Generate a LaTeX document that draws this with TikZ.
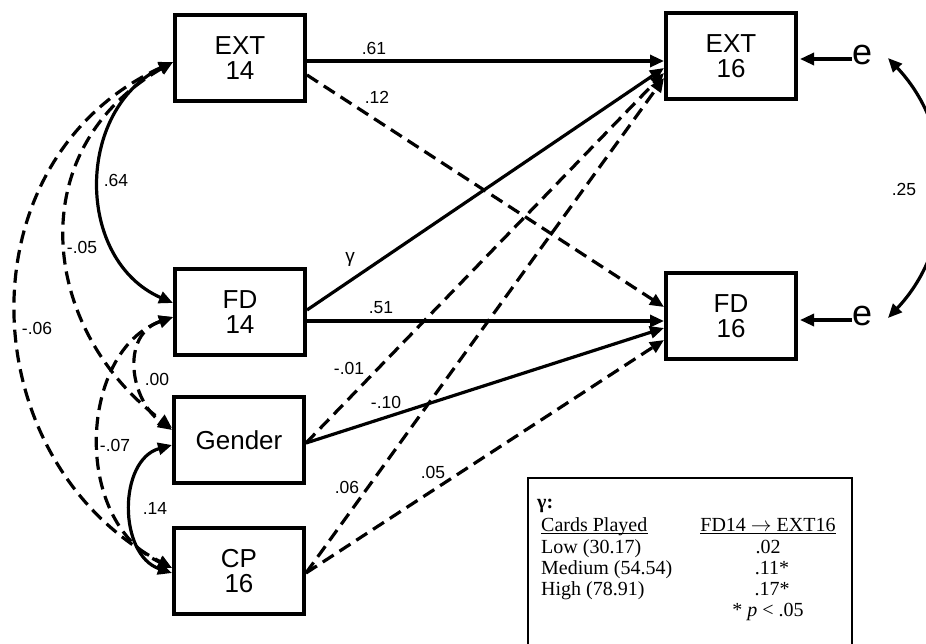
\documentclass[tikz,border=0pt]{standalone}
\usepackage{fontspec}
\setmainfont{Liberation Sans}
\newfontfamily\tabfont{Liberation Serif}
\usetikzlibrary{arrows.meta,calc}
\begin{document}
\begin{tikzpicture}[x=1pt,y=-1pt,
  box/.style={draw,line width=4pt,minimum width=130pt,minimum height=86pt,inner sep=0pt,align=center,font=\fontsize{26}{25}\selectfont},
  conn/.style={line width=3.2pt,-{Triangle[length=14pt,width=12pt]}},
  corr/.style={line width=3.2pt,{Triangle[length=14pt,width=12pt]}-{Triangle[length=14pt,width=12pt]}},
  dsh/.style={dash pattern=on 13pt off 7pt},
  lbl/.style={font=\fontsize{17.5}{18}\selectfont,inner sep=0pt},
  errlbl/.style={font=\fontsize{36}{36}\selectfont,inner sep=0pt},
  tab/.style={font=\tabfont\fontsize{20}{21}\selectfont,inner sep=0pt},
  uline/.style={line width=1.1pt}
]
\useasboundingbox (0,0) rectangle (926,643);
\fill[white] (0,0) rectangle (926,643);

% boxes
\node[box] (ext14) at (240,58) {EXT\\14};
\node[box] (fd14) at (240,312) {FD\\14};
\node[box] (gender) at (239,440) {Gender};
\node[box] (cp) at (239,571) {CP\\16};
\node[box] (ext16) at (731,56) {EXT\\16};
\node[box] (fd16) at (731,316) {FD\\16};

% error terms
\node[errlbl] (e1) at (862,55) {e};
\node[errlbl] (e2) at (862,316) {e};
\draw[conn] ($(e1.west)+(0,4)$) -- ($(e1.west -| ext16.east)+(2,4)$);
\draw[conn] ($(e2.west)+(0,4)$) -- ($(e2.west -| fd16.east)+(2,4)$);
\coordinate (r1) at (888,58);
\coordinate (r2) at (888,318);
\draw[corr] (r1) .. controls (958,132) and (958,244) .. (r2);
\node[lbl] (l25) at (904,189) {.25};

% paths to the right
\draw[conn] ($(ext14.east)+(0,3)$) -- ($(ext16.west)+(0,5)$);
\draw[conn,dsh] ($(ext14.east)+(0,17)$) -- ($(fd16.west)+(0,-9)$);
\draw[conn] ($(fd14.east)+(0,-2)$) -- ($(ext16.west)+(0,12)$);
\draw[conn] ($(fd14.east)+(0,9)$) -- ($(fd16.west)+(0,5)$);
\draw[conn,dsh] ($(gender.east)+(0,3)$) -- ($(ext16.west)+(0,17)$);
\draw[conn] ($(gender.east)+(0,3)$) -- ($(fd16.west)+(0,12)$);
\draw[conn,dsh] ($(cp.east)+(0,2)$) -- ($(ext16.west)+(0,22)$);
\draw[conn,dsh] ($(cp.east)+(0,2)$) -- ($(fd16.west)+(0,24)$);

\node[lbl] (l61) at (374,48) {.61};
\node[lbl] (l12) at (377,97) {.12};
\node[lbl] (lg) at (350,259) {\fontsize{19}{19}\selectfont γ};
\node[lbl] (l51) at (381,308) {.51};
\node[lbl] (l01) at (349,368) {-.01};
\node[lbl] (l10) at (386,402) {-.10};
\node[lbl] (l06) at (347,487) {.06};
\node[lbl] (l05) at (433,472) {.05};

% correlations on the left
\draw[corr] ($(ext14.west)+(0,4)$) .. controls (75,110) and (75,260) .. ($(fd14.west)+(0,-9)$);
\draw[corr,dsh] ($(ext14.west)+(0,4)$) .. controls (20,150) and (40,330) .. ($(gender.west)+(0,-12)$);
\draw[corr,dsh] ($(ext14.west)+(0,4)$) .. controls (-40,160) and (-30,460) .. ($(cp.west)+(0,-3)$);
\draw[corr,dsh] ($(fd14.west)+(0,5)$) .. controls (120,335) and (130,400) .. ($(gender.west)+(0,-10)$);
\draw[corr,dsh] ($(fd14.west)+(0,5)$) .. controls (80,350) and (70,520) .. ($(cp.west)+(0,-3)$);
\draw[corr] ($(gender.west)+(0,5)$) .. controls (118,460) and (118,555) .. ($(cp.west)+(0,2)$);

\node[lbl] (l64) at (116,180) {.64};
\node[lbl] (l05b) at (82,247) {-.05};
\node[lbl] (l06b) at (37,328) {-.06};
\node[lbl] (l00) at (157,379) {.00};
\node[lbl] (l07) at (115,445) {-.07};
\node[lbl] (l14) at (155,508) {.14};

% table
\node[draw,line width=1.8pt,minimum width=324pt,minimum height=190pt,anchor=north west,inner sep=0pt] (tbl) at (527,477) {};
\node[tab,anchor=base west] (tg) at (537,508) {\bfseries γ:};
\node[tab,anchor=base west] (tc) at (541,531) {Cards Played};
\node[tab,anchor=base west] (tl) at (541,553) {Low (30.17)};
\node[tab,anchor=base west] (tm) at (541,574) {Medium (54.54)};
\node[tab,anchor=base west] (th) at (541,595) {High (78.91)};
\node[tab,anchor=base] (rc) at (768,531) {FD14 $\rightarrow$ EXT16};
\node[tab,anchor=base] (rl) at (768,553) {.02};
\node[tab,anchor=base] (rm) at (772,574) {.11*};
\node[tab,anchor=base] (rh) at (772,595) {.17*};
\node[tab,anchor=base] (rp) at (768,616) {* \textit{p} < .05};
\draw[uline] ($(tc.base west)+(0,2.5)$) -- ($(tc.base east)+(0,2.5)$);
\draw[uline] ($(rc.base west)+(0,2.5)$) -- ($(rc.base east)+(0,2.5)$);
\end{tikzpicture}
\end{document}
